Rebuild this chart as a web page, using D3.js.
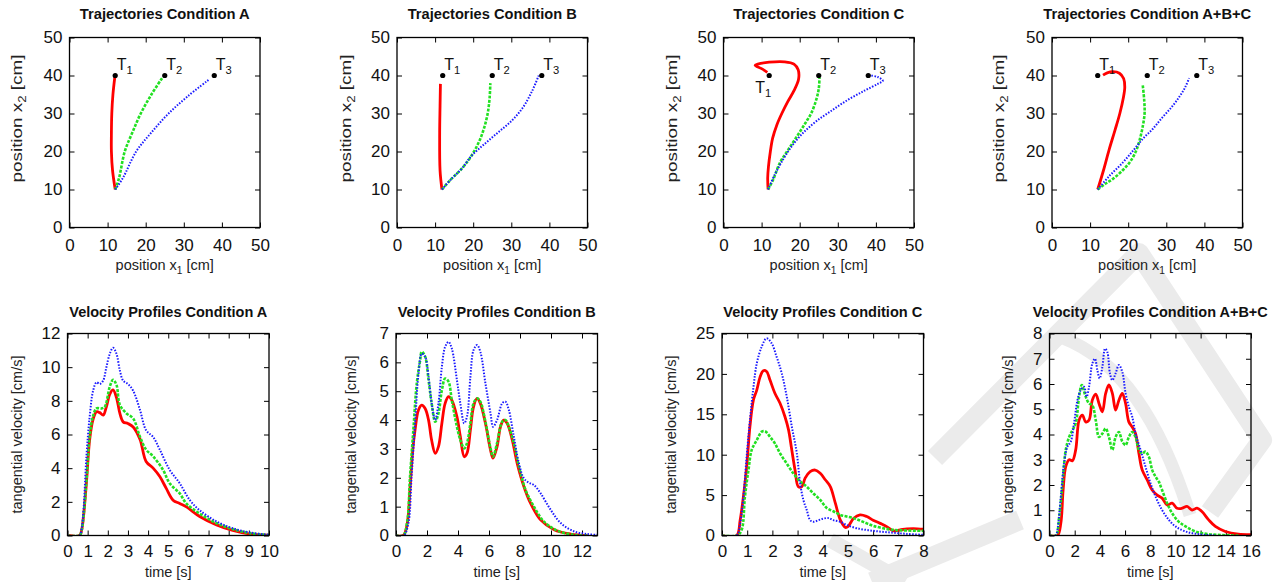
<!DOCTYPE html>
<html>
<head>
<meta charset="utf-8">
<script src="https://cdn.jsdelivr.net/npm/d3@7"></script>
<style>
body { margin: 0; background: #fff; }
text { font-family: "Liberation Sans", Arial, Helvetica, sans-serif; }
</style>
</head>
<body>
<div id="chart"></div>
<script>
// ---- data ----
var conditions = ["A", "B", "C", "A+B+C"];
var targetPos = [[12, 40], [25, 40], [38, 40]];
var targetIds = ["1", "2", "3"];
var trajTicks = [0, 10, 20, 30, 40, 50];

// trajectories [x1, x2] in cm
var trajA_red = [[12,10],[11.3,15],[11,20],[11,25],[11.1,30],[11.4,35],[11.9,39.6]];
var trajA_green = [[12,10],[13,13],[14.5,20],[16.5,25],[18.7,30],[21.5,35],[24.3,39.3]];
var trajA_blue = [[12,10],[14,13],[17.5,20],[21.5,25],[26,30],[31,34.5],[36.7,39]];

var trajB_red = [[11.8,10],[11.3,15],[11.2,25],[11.3,32],[11.4,37.8]];
var trajB_green = [[11.8,10],[14,12.5],[17,15.5],[19.5,18.8],[21.5,22.5],[22.8,26],[23.8,30],[24.3,34],[24.5,38]];
var trajB_blue = [[11.8,10],[14,12.5],[17,15.5],[19.5,18.8],[23,22],[26.5,25],[30,28],[33,31.5],[35.5,36],[37.2,40]];

var trajC_red = [[11.7,10],[11.6,13],[11.8,16],[12.3,20],[12.9,23.5],[14,27],[15.3,30],[16.8,33],[18.5,36],[19.7,39],[19.6,41.5],[18.5,43],[16,43.6],[12,43.5],[9,43],[8.3,42.7],[10,41.8],[11.5,40.8]];
var trajC_green = [[11.7,10],[13,12.5],[14.8,17],[17,20.5],[19.3,24],[21.5,27.5],[23,30],[24.3,33.5],[25,36.5],[25.2,39.5]];
var trajC_blue = [[11.7,10],[13.5,14],[15.7,18],[18,21.5],[20.5,24.5],[24,27.7],[28,30.5],[32.5,33.5],[37,36],[40.5,37.8],[41.8,38.6],[40.5,39.6],[38.5,40]];

var trajD_red = [[12,10],[13.5,15],[15,20.5],[16.5,25.5],[17.8,30],[18.7,34],[19.1,37],[18.8,39.2],[17.7,40.6],[16,41],[14.5,40.7],[13.4,40.1]];
var trajD_green = [[12,10],[14,11.5],[16,12.8],[18.5,15],[20.5,17.3],[22,20],[23,23],[23.8,26.5],[24.3,30],[24.2,33.5],[23.8,37.6]];
var trajD_blue = [[12,10],[15,13.5],[18.5,17],[21.5,20.5],[24,23.5],[26.5,26],[29,29],[31.5,31.8],[33.5,34.5],[35,37],[36,39.3]];

// velocity profiles [time s, velocity cm/s]
var velA_red = [[0,0],[0.6,0],[0.7,0.3],[0.8,1.2],[0.95,3.3],[1.1,5.7],[1.27,6.9],[1.44,7.35],[1.6,7.3],[1.77,7.15],[1.93,7.65],[2.1,8.4],[2.26,8.65],[2.43,8.2],[2.6,7.25],[2.76,6.75],[3.0,6.65],[3.26,6.45],[3.6,5.7],[3.9,4.4],[4.25,4.0],[4.58,3.5],[4.9,2.8],[5.24,2.1],[5.57,1.9],[5.9,1.7],[6.56,1.13],[7.4,0.63],[8.2,0.3],[9.0,0.1],[10,0.02]];
var velA_green = [[0,0],[0.6,0],[0.7,0.3],[0.8,1.2],[0.95,3.4],[1.1,5.9],[1.27,7.1],[1.44,7.55],[1.69,7.55],[1.85,7.65],[2.1,8.85],[2.26,9.25],[2.43,8.95],[2.6,7.75],[2.93,7.25],[3.26,6.95],[3.6,5.85],[3.9,5.1],[4.25,4.7],[4.74,3.9],[5.07,3.1],[5.57,2.5],[5.9,1.9],[6.56,1.3],[7.4,0.73],[8.2,0.38],[9.04,0.14],[10,0.02]];
var velA_blue = [[0,0],[0.6,0],[0.7,0.4],[0.8,1.6],[0.94,4.7],[1.1,7.05],[1.27,8.6],[1.44,9.1],[1.6,9.0],[1.77,9.2],[1.93,10.0],[2.1,10.8],[2.26,11.15],[2.43,10.8],[2.6,9.8],[2.76,9.2],[3.0,9.0],[3.26,8.6],[3.6,7.45],[3.9,6.25],[4.25,5.85],[4.58,5.1],[5.07,3.9],[5.57,3.1],[6.07,2.1],[6.56,1.5],[7.4,0.83],[8.2,0.43],[9.04,0.18],[10,0.04]];

var velB_red = [[0,0],[0.47,0],[0.73,0.43],[0.9,1.58],[1.08,2.96],[1.23,3.66],[1.45,4.35],[1.66,4.52],[1.88,4.4],[2.1,4.0],[2.3,3.3],[2.53,2.85],[2.74,3.08],[2.96,3.89],[3.17,4.58],[3.39,4.81],[3.6,4.69],[3.93,4.12],[4.15,3.43],[4.4,2.73],[4.58,2.85],[4.8,3.66],[5.0,4.46],[5.23,4.75],[5.44,4.58],[5.77,3.89],[6.1,2.96],[6.26,2.68],[6.52,3.08],[6.74,3.77],[6.95,4.0],[7.17,3.89],[7.5,3.31],[7.82,2.5],[8.25,1.7],[8.68,1.12],[9.33,0.54],[10.2,0.2],[11.27,0.05],[12.35,0]];
var velB_green = [[0,0],[0.47,0],[0.73,0.5],[0.9,2.0],[1.12,3.66],[1.34,5.27],[1.56,6.08],[1.66,6.37],[1.88,6.2],[2.1,5.39],[2.3,4.58],[2.53,3.94],[2.74,4.23],[2.96,5.04],[3.17,5.44],[3.39,5.33],[3.6,4.69],[3.93,3.77],[4.15,3.31],[4.4,3.02],[4.58,3.2],[4.8,3.89],[5.0,4.58],[5.23,4.75],[5.44,4.64],[5.77,3.94],[6.1,3.02],[6.26,2.73],[6.52,3.2],[6.85,3.94],[7.06,4.0],[7.28,3.77],[7.6,3.2],[7.93,2.39],[8.36,1.58],[8.9,1.0],[9.55,0.48],[10.4,0.17],[11.5,0.02],[12.35,0]];
var velB_blue = [[0,0],[0.5,0],[0.8,0.43],[1.0,2.0],[1.23,3.89],[1.45,5.6],[1.66,6.3],[1.88,6.2],[2.1,5.5],[2.3,4.58],[2.53,4.0],[2.74,4.58],[2.96,5.85],[3.17,6.54],[3.39,6.71],[3.6,6.48],[3.93,5.39],[4.15,4.58],[4.4,3.89],[4.58,4.12],[4.8,5.5],[5.0,6.42],[5.23,6.6],[5.44,6.37],[5.77,5.27],[6.1,4.23],[6.26,3.77],[6.52,4.0],[6.85,4.58],[7.06,4.64],[7.28,4.35],[7.6,3.43],[7.93,2.5],[8.25,1.98],[8.57,1.83],[8.9,1.75],[9.33,1.46],[9.98,0.89],[10.63,0.43],[11.5,0.14],[12.35,0.05],[13,0.02]];

var velC_red = [[0,0],[0.58,0],[0.72,1.9],[0.85,4.8],[0.98,8.5],[1.11,13.5],[1.25,16.8],[1.38,18.0],[1.51,19.6],[1.64,20.4],[1.77,20.3],[1.91,19.2],[2.1,17.6],[2.3,16.4],[2.5,14.7],[2.64,13.1],[2.77,10.6],[2.9,8.1],[3.03,6.05],[3.17,6.05],[3.3,7.1],[3.5,7.9],[3.7,8.1],[3.9,7.7],[4.1,6.9],[4.3,6.05],[4.5,4.0],[4.7,1.9],[4.9,1.0],[5.0,1.1],[5.22,2.1],[5.48,2.55],[5.75,2.35],[6.0,1.9],[6.28,1.5],[6.54,1.1],[6.8,0.58],[7.07,0.7],[7.34,0.82],[7.6,0.86],[8,0.78]];
var velC_green = [[0,0],[0.6,0],[0.78,0.7],[0.91,4.8],[1.05,8.1],[1.18,10.6],[1.38,11.8],[1.58,12.85],[1.71,12.9],[1.91,12.2],[2.1,11.4],[2.3,10.2],[2.57,8.9],[2.83,7.7],[3.1,6.7],[3.36,6.05],[3.63,5.2],[3.9,4.4],[4.16,3.4],[4.42,3.0],[4.69,2.55],[4.95,2.35],[5.22,2.15],[5.48,1.85],[5.75,1.5],[6.0,1.2],[6.4,0.9],[6.8,0.7],[7.34,0.62],[8,0.58]];
var velC_blue = [[0,0],[0.58,0],[0.72,1.5],[0.85,4.8],[0.98,9.8],[1.11,14.3],[1.25,18.4],[1.38,21.3],[1.58,23.4],[1.77,24.4],[1.97,23.8],[2.17,22.1],[2.37,20.1],[2.57,17.2],[2.77,13.5],[2.97,10.2],[3.1,6.5],[3.23,4.4],[3.36,3.2],[3.5,1.9],[3.63,1.7],[3.83,1.9],[4.03,2.1],[4.23,2.15],[4.42,1.9],[4.69,1.7],[4.95,1.3],[5.35,0.9],[6.0,0.58],[6.68,0.37],[7.34,0.2],[8,0.08]];

var velD_red = [[0,0],[0.63,0],[0.9,0.49],[1.08,1.8],[1.29,2.73],[1.56,3.0],[1.82,2.96],[2.08,3.39],[2.35,4.57],[2.61,4.77],[2.87,4.5],[3.14,4.57],[3.4,5.36],[3.67,5.6],[3.93,5.23],[4.2,4.9],[4.46,5.63],[4.72,5.96],[4.99,5.63],[5.25,4.97],[5.51,5.36],[5.78,5.63],[6.04,5.23],[6.3,4.5],[6.57,4.3],[6.83,4.04],[7.1,3.25],[7.36,2.6],[7.76,2.2],[8.15,1.8],[8.55,1.6],[8.94,1.48],[9.34,1.21],[9.74,1.28],[10.13,1.08],[10.53,1.08],[10.92,1.15],[11.32,1.01],[11.72,1.08],[12.1,0.95],[12.64,0.62],[13.17,0.36],[13.96,0.16],[15.0,0.05],[16,0.03]];
var velD_green = [[0,0],[0.5,0],[0.77,0.75],[1.03,2.07],[1.29,3.39],[1.56,3.9],[1.82,4.17],[2.08,4.44],[2.35,5.5],[2.56,5.96],[2.87,5.5],[3.14,5.23],[3.4,5.16],[3.67,4.57],[3.93,3.9],[4.2,4.04],[4.46,4.24],[4.72,3.9],[4.99,3.39],[5.25,3.9],[5.51,4.1],[5.78,3.72],[6.04,3.58],[6.3,3.9],[6.57,4.1],[6.83,3.9],[7.1,3.39],[7.36,3.25],[7.62,3.32],[7.89,3.12],[8.15,2.6],[8.42,2.33],[8.68,2.13],[8.94,1.8],[9.34,1.28],[9.74,0.88],[10.26,0.55],[10.8,0.36],[11.6,0.16],[12.64,0.05],[15,0]];
var velD_blue = [[0,0],[0.5,0],[0.63,0.22],[0.9,1.54],[1.16,2.86],[1.42,3.52],[1.69,3.72],[1.95,4.44],[2.22,5.36],[2.48,5.76],[2.74,5.89],[2.95,5.5],[3.14,5.89],[3.4,6.81],[3.61,7.0],[3.8,6.55],[3.98,6.22],[4.2,6.68],[4.41,7.4],[4.59,7.27],[4.8,6.42],[4.99,6.15],[5.25,6.42],[5.51,6.75],[5.78,6.48],[6.04,5.63],[6.3,5.1],[6.57,4.7],[6.83,4.04],[7.23,3.39],[7.62,2.73],[8.02,2.07],[8.42,1.54],[8.94,1.01],[9.47,0.62],[10.0,0.36],[10.8,0.16],[11.85,0.05],[13.17,0]];

var trajSeries = [
  [trajA_red, trajA_green, trajA_blue],
  [trajB_red, trajB_green, trajB_blue],
  [trajC_red, trajC_green, trajC_blue],
  [trajD_red, trajD_green, trajD_blue]
];
var velSeries = [
  [velA_red, velA_green, velA_blue],
  [velB_red, velB_green, velB_blue],
  [velC_red, velC_green, velC_blue],
  [velD_red, velD_green, velD_blue]
];
var velXMax = [10, 13, 8, 16];
var velYMax = [12, 7, 25, 8];
var velXTicks = [
  [0,1,2,3,4,5,6,7,8,9,10],
  [0,2,4,6,8,10,12],
  [0,1,2,3,4,5,6,7,8],
  [0,2,4,6,8,10,12,14,16]
];
var velYTicks = [
  [0,2,4,6,8,10,12],
  [0,1,2,3,4,5,6,7],
  [0,5,10,15,20,25],
  [0,1,2,3,4,5,6,7,8]
];

// ---- layout / style ----
var width = 1276, height = 582;
var topLeft = [69.5, 397, 723.5, 1052], topW = 190.5, topY = 37.5, topH = 190;
var botLeft = [67.5, 396, 722, 1049.5], botW = 201.5, botY = 333.5, botH = 202;
var topYLabOff = [48, 46, 46.5, 48];
var botYLabOff = [46, 40.5, 46, 37];
var topTitleW = [170, 169, 171, 208];
var botTitleW = [198, 198, 199, 235];

var styles = [
  {color: "#ff0000", w: 2.8, dash: null},
  {color: "#22e022", w: 2.6, dash: "3,1.4"},
  {color: "#1a1aff", w: 2.0, dash: "1.5,1.5"}
];

var svg = d3.select("#chart").append("svg")
  .attr("width", width)
  .attr("height", height);

// faint watermark in the background
var wm = svg.append("g").attr("fill", "none").attr("stroke", "#ebebeb");
[
  ["M 935 458 L 1139 253 L 1262 440 L 1210 512", 20],
  ["M 1063 338 C 1120 360, 1160 420, 1190 515", 13],
  ["M 872 582 L 1020 520", 20],
  ["M 830 540 L 905 582", 15]
].forEach(function(p) {
  wm.append("path").attr("d", p[0]).attr("stroke-width", p[1]).attr("stroke-linejoin", "round");
});

function subText(sel, parts) {
  // parts: [main, sub, rest]
  sel.append("tspan").text(parts[0]);
  sel.append("tspan").attr("font-size", "0.7em").attr("dy", 4).text(parts[1]);
  if (parts[2] != null) sel.append("tspan").attr("dy", -4).text(parts[2]);
}

function drawPanel(o) {
  var g = svg.append("g").attr("transform", "translate(" + o.left + "," + o.top + ")");
  var x = d3.scaleLinear().domain(o.xdom).range([0, o.w]);
  var y = d3.scaleLinear().domain(o.ydom).range([o.h, 0]);

  var clipId = "clip" + o.id;
  g.append("clipPath").attr("id", clipId)
    .append("rect").attr("width", o.w).attr("height", o.h);

  // axes with inward ticks, mirrored on all sides
  var ax = g.append("g").attr("transform", "translate(0," + o.h + ")")
    .call(d3.axisBottom(x).tickValues(o.xticks).tickSize(-5).tickPadding(o.xpad).tickFormat(d3.format("d")));
  var ay = g.append("g")
    .call(d3.axisLeft(y).tickValues(o.yticks).tickSize(-5).tickPadding(7).tickFormat(d3.format("d")));
  g.append("g").call(d3.axisTop(x).tickValues(o.xticks).tickSize(-5).tickFormat(""));
  g.append("g").attr("transform", "translate(" + o.w + ",0)")
    .call(d3.axisRight(y).tickValues(o.yticks).tickSize(-5).tickFormat(""));
  g.selectAll(".domain").remove();
  g.selectAll(".tick line").attr("stroke", "#000").attr("stroke-width", 1);
  [ax, ay].forEach(function(a) {
    a.attr("font-size", null).attr("font-family", null);
    a.selectAll("text").attr("font-size", 17).attr("fill", "#111");
  });

  var line = d3.line()
    .x(function(d) { return x(d[0]); })
    .y(function(d) { return y(d[1]); })
    .curve(d3.curveCatmullRom.alpha(0.5));

  var lines = g.append("g").attr("clip-path", "url(#" + clipId + ")");
  o.series.forEach(function(s, i) {
    lines.append("path")
      .datum(s)
      .attr("fill", "none")
      .attr("stroke", styles[i].color)
      .attr("stroke-width", styles[i].w)
      .attr("stroke-dasharray", styles[i].dash)
      .attr("d", line);
  });

  if (o.targets) {
    o.targets.forEach(function(t, i) {
      g.append("circle")
        .attr("cx", x(t[0])).attr("cy", y(t[1])).attr("r", 2.6)
        .attr("fill", "#000");
      var below = (o.id == "t2" && i == 0);
      var lab = g.append("text")
        .attr("x", x(t[0]) + (below ? -14 : 1.5))
        .attr("y", y(t[1]) + (below ? 17 : -6))
        .attr("font-size", 16)
        .attr("fill", "#111");
      subText(lab, ["T", targetIds[i]]);
    });
  }

  g.append("rect")
    .attr("width", o.w).attr("height", o.h)
    .attr("fill", "none").attr("stroke", "#000").attr("stroke-width", 1.3);

  // title
  g.append("text")
    .attr("x", o.w / 2).attr("y", o.titleY)
    .attr("text-anchor", "middle")
    .attr("font-weight", "bold")
    .attr("font-size", 14)
    .attr("textLength", o.titleW)
    .attr("lengthAdjust", "spacingAndGlyphs")
    .attr("fill", "#111")
    .text(o.title);

  // x label
  var xl = g.append("text")
    .attr("x", o.w / 2).attr("y", o.h + o.xlabY)
    .attr("text-anchor", "middle")
    .attr("font-size", 14.5)
    .attr("fill", "#222");
  if (o.xlab.length > 1) subText(xl, o.xlab); else xl.text(o.xlab[0]);

  // y label
  var yl = g.append("text")
    .attr("transform", "translate(" + (-o.ylabOff) + "," + o.ylabCY + ") rotate(-90)")
    .attr("text-anchor", "middle")
    .attr("font-size", 14.5)
    .attr("fill", "#222");
  if (o.ylabLen) yl.attr("textLength", o.ylabLen).attr("lengthAdjust", "spacingAndGlyphs");
  if (o.ylab.length > 1) subText(yl, o.ylab); else yl.text(o.ylab[0]);
}

conditions.forEach(function(c, i) {
  drawPanel({
    id: "t" + i, left: topLeft[i], top: topY, w: topW, h: topH,
    xdom: [0, 50], ydom: [0, 50], xticks: trajTicks, yticks: trajTicks, xpad: 11.5,
    series: trajSeries[i], targets: targetPos,
    title: "Trajectories Condition " + c, titleY: -18.5, titleW: topTitleW[i],
    xlab: ["position x", "1", " [cm]"], xlabY: 42.5,
    ylab: ["position x", "2", " [cm]"], ylabOff: topYLabOff[i], ylabCY: 81, ylabLen: 128
  });
  drawPanel({
    id: "v" + i, left: botLeft[i], top: botY, w: botW, h: botH,
    xdom: [0, velXMax[i]], ydom: [0, velYMax[i]], xticks: velXTicks[i], yticks: velYTicks[i], xpad: 9.5,
    series: velSeries[i], targets: null,
    title: "Velocity Profiles Condition " + c, titleY: -16.8, titleW: botTitleW[i],
    xlab: ["time [s]"], xlabY: 41.5,
    ylab: ["tangential velocity [cm/s]"], ylabOff: botYLabOff[i], ylabCY: botH / 2, ylabLen: null
  });
});
</script>
</body>
</html>
